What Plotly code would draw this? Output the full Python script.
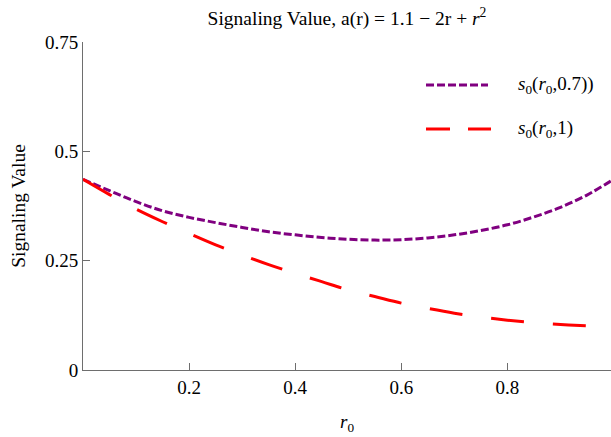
import plotly.graph_objects as go

# ---- data ----
r0 = [0.0, 0.05, 0.1, 0.15, 0.2, 0.25, 0.3, 0.35, 0.4, 0.45, 0.5,
      0.55, 0.6, 0.65, 0.7, 0.75, 0.8, 0.85, 0.9, 0.95, 1.0]
s_07 = [0.436, 0.410, 0.385, 0.364, 0.349, 0.337, 0.326, 0.316, 0.309, 0.303, 0.299,
        0.297, 0.298, 0.302, 0.309, 0.319, 0.332, 0.350, 0.372, 0.400, 0.436]
s_1 = [0.436, 0.401, 0.368, 0.339, 0.312, 0.286, 0.263, 0.241, 0.221, 0.202, 0.183,
       0.168, 0.153, 0.141, 0.130, 0.121, 0.114, 0.108, 0.104, 0.101, 0.099]
series_names = ["<i>s</i><sub>0</sub>(<i>r</i><sub>0</sub>,0.7))",
                "<i>s</i><sub>0</sub>(<i>r</i><sub>0</sub>,1)"]
x_ticks = [0.2, 0.4, 0.6, 0.8, 1.0]
x_ticklabels = ["0.2", "0.4", "0.6", "0.8", "1"]
y_ticks = [0, 0.25, 0.5, 0.75]
y_ticklabels = ["0", "0.25", "0.5", "0.75"]

PURPLE = "#800080"
RED = "#FF0000"
AXIS = "#6e6e6e"
FONT = "Liberation Serif"
FS = 19

W, H = 611, 437
L, R, T, B = 83, 0, 42, 67

fig = go.Figure()
fig.add_trace(go.Scatter(x=r0, y=s_07, mode="lines", name=series_names[0],
                         line=dict(color=PURPLE, width=3, dash="8px,3px", shape="spline"),
                         showlegend=False))
fig.add_trace(go.Scatter(x=r0, y=s_1, mode="lines", name=series_names[1],
                         line=dict(color=RED, width=3, dash="33px,29px", shape="spline"),
                         showlegend=False))

# legend drawn manually (pixel positions -> paper coords)
pw, ph = W - L - R, H - T - B
def px_x(p):
    return (p - L) / pw
def px_y(p):
    return (H - B - p) / ph

legend_items = [(85, PURPLE, "8px,3px", 488), (129, RED, "24px,18px", 491)]
for (py, col, dash, xend), name in zip(legend_items, series_names):
    fig.add_shape(type="line", xref="paper", yref="paper",
                  x0=px_x(426), x1=px_x(xend), y0=px_y(py), y1=px_y(py),
                  line=dict(color=col, width=3, dash=dash))
    fig.add_annotation(xref="paper", yref="paper", x=px_x(516), y=px_y(py),
                       xanchor="left", yanchor="middle", showarrow=False,
                       text=name, font=dict(family=FONT, size=FS, color="black"))

fig.update_layout(
    width=W, height=H,
    margin=dict(l=L, r=R, t=T, b=B, pad=0),
    paper_bgcolor="white", plot_bgcolor="white",
    font=dict(family=FONT, size=FS, color="black"),
    title=dict(text="Signaling Value, a(r) = 1.1 \u2212 2r + <i>r</i><sup>2</sup>",
               x=0.5, xref="paper", xanchor="center",
               y=1 - 18 / H, yref="container", yanchor="middle",
               font=dict(family=FONT, size=19.5, color="black")),
    xaxis=dict(range=[0, (W - L) / 530.5], tickvals=x_ticks, ticktext=x_ticklabels,
               showgrid=False, zeroline=False, showline=True, linecolor=AXIS, linewidth=1,
               ticks="inside", ticklen=7, tickcolor=AXIS, tickwidth=1,
               tickfont=dict(family=FONT, size=FS, color="black"),
               title=dict(text="<i>r</i><sub>0</sub>", standoff=17,
                          font=dict(family=FONT, size=FS, color="black"))),
    yaxis=dict(range=[0, 0.75], tickvals=y_ticks, ticktext=y_ticklabels,
               showgrid=False, zeroline=False, showline=True, linecolor=AXIS, linewidth=1,
               ticks="inside", ticklen=7, tickcolor=AXIS, tickwidth=1,
               tickfont=dict(family=FONT, size=FS, color="black"),
               title=dict(text="Signaling Value", standoff=14,
                          font=dict(family=FONT, size=19.5, color="black"))),
)

fig.write_html("out.html", config={"displayModeBar": False},
               post_script="document.body.style.margin='0';document.body.style.overflow='hidden';")
